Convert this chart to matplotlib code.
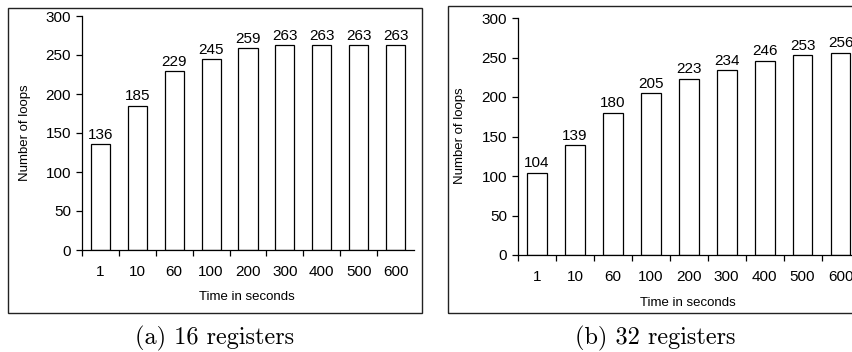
import matplotlib
matplotlib.use("Agg")
import matplotlib.pyplot as plt
from matplotlib.patches import Rectangle

# data
times = ["1", "10", "60", "100", "200", "300", "400", "500", "600"]
loops_16 = [136, 185, 229, 245, 259, 263, 263, 263, 263]
loops_32 = [104, 139, 180, 205, 223, 234, 246, 253, 256]
captions = ["(a) 16 registers", "(b) 32 registers"]

W, H = 853, 352
plt.rcParams["font.family"] = ["Liberation Sans", "DejaVu Sans"]

fig = plt.figure(figsize=(W / 100, H / 100), dpi=100)


def px(x0, y0, w, h):
    # pixel box (top-left origin) -> figure fraction
    return [x0 / W, 1 - (y0 + h) / H, w / W, h / H]


def panel(values, ax_box, frame_box, caption, cap_xy, xlab_xy, ylab_xy):
    fx, fy, fw, fh = frame_box
    fig.patches.append(Rectangle((fx / W, 1 - (fy + fh) / H), fw / W, fh / H,
                                 transform=fig.transFigure, fill=False,
                                 edgecolor="#222222", lw=1.0))
    ax = fig.add_axes(px(*ax_box))
    n = len(values)
    ax.bar(range(n), values, width=0.52, color="white", edgecolor="black", lw=0.9)
    for i, v in enumerate(values):
        ax.text(i, v + 3, str(v), ha="center", va="bottom", fontsize=11)
    ax.set_xlim(-0.5, n - 0.5)
    ax.set_ylim(0, 300)
    ax.set_yticks(range(0, 301, 50))
    ax.set_xticks([i - 0.5 for i in range(n)])
    ax.set_xticklabels([])
    ax.set_xticks(range(n), minor=True)
    ax.set_xticklabels(times, minor=True, fontsize=11)
    ax.tick_params(axis="x", which="major", direction="out", length=4.5, width=0.9)
    ax.tick_params(axis="x", which="minor", length=0, pad=11)
    ax.tick_params(axis="y", direction="out", length=4.5, width=0.9, labelsize=11, pad=3.5)
    for s in ["top", "right"]:
        ax.spines[s].set_visible(False)
    for s in ["left", "bottom"]:
        ax.spines[s].set_linewidth(0.9)
    ax.patch.set_alpha(0)
    fig.text(xlab_xy[0] / W, 1 - xlab_xy[1] / H, "Time in seconds",
             ha="center", va="center", fontsize=9.5)
    fig.text(ylab_xy[0] / W, 1 - ylab_xy[1] / H, "Number of loops",
             ha="center", va="center", fontsize=9.5, rotation=90)
    fig.text(cap_xy[0] / W, 1 - cap_xy[1] / H, caption, ha="center",
             va="center", fontsize=17.5, family="cmr10")
    return ax


panel(loops_16, (82, 16, 332, 234), (8, 8, 414, 305), captions[0],
      (215, 338), (247, 297), (25, 133))
panel(loops_32, (518, 18, 341.5, 237), (448, 6, 420, 307), captions[1],
      (655, 338), (688, 303), (460, 136))

fig.savefig("out.png", dpi=100)
